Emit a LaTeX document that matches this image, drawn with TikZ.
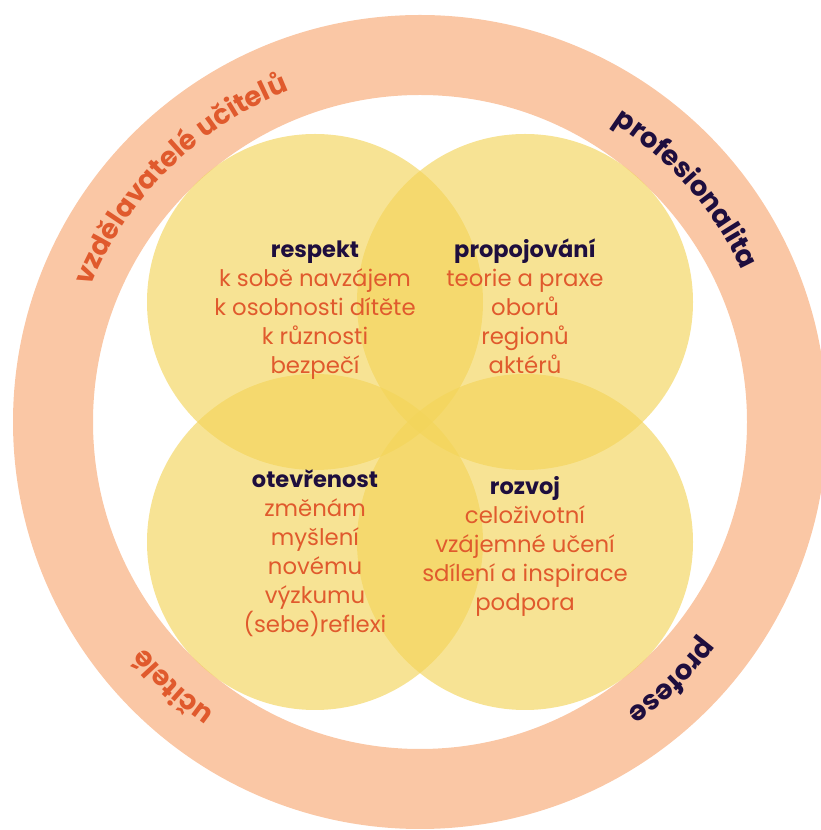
\documentclass[tikz,border=0pt]{standalone}
\usepackage{fontspec}
\setmainfont{Poppins}
\usetikzlibrary{decorations.text}
\definecolor{ringc}{RGB}{250,199,165}
\definecolor{circc}{RGB}{243,212,89}
\definecolor{orangec}{RGB}{224,90,45}
\definecolor{navyc}{RGB}{30,14,62}
\newcommand{\vtitleof}[1]{\rule{0pt}{20pt}\textcolor{navyc}{\fontsize{22.5}{29}\selectfont\bfseries #1}}
\begin{document}
\begin{tikzpicture}[x=1pt,y=1pt,
  venn/.style={circle, fill=circc, fill opacity=0.645, minimum size=336pt, inner sep=0pt},
  vtext/.style={align=center, text=orangec, font=\fontsize{22.8}{29}\selectfont, inner sep=0pt, anchor=north}]
\useasboundingbox (0,0) rectangle (821,830);
\clip (0,0) rectangle (821,830);
\coordinate (c) at (420,408);
\fill[ringc, even odd rule] (c) circle[radius=407] (c) circle[radius=327];
\node[venn] (tl) at (315,528) {};
\node[venn] (tr) at (525,528) {};
\node[venn] (bl) at (315,288) {};
\node[venn] (br) at (525,288) {};
\node[vtext] (t1) at (315,593) {\vtitleof{respekt}\\k sobě navzájem\\k osobnosti dítěte\\k různosti\\bezpečí};
\node[vtext] (t2) at (525,593) {\vtitleof{propojování}\\teorie a praxe\\oborů\\regionů\\aktérů};
\node[vtext] (t3) at (315,363) {\vtitleof{otevřenost}\\změnám\\myšlení\\novému\\výzkumu\\(sebe)reflexi};
\node[vtext] (t4) at (525,356) {\vtitleof{rozvoj}\\celoživotní\\vzájemné učení\\sdílení a inspirace\\podpora};
\path[decorate, decoration={text along path, text align=center,
  text={|\bfseries\fontsize{27.5}{27.5}\selectfont\color{orangec}|vzdělavatelé učitelů}}]
  (c) ++(174.6:356) arc[start angle=174.6, end angle=94.6, radius=356];
\path[decorate, decoration={text along path, text align=center,
  text={|\bfseries\fontsize{27.5}{27.5}\selectfont\color{navyc}|profesionalita}}]
  (c) ++(81.2:356) arc[start angle=81.2, end angle=1.2, radius=356];
\path[decorate, decoration={text along path, text align=center,
  text={|\bfseries\fontsize{27.5}{27.5}\selectfont\color{navyc}|profese}}]
  (c) ++(-15.8:356) arc[start angle=-15.8, end angle=-75.8, radius=356];
\path[decorate, decoration={text along path, text align=center,
  text={|\bfseries\fontsize{27.5}{27.5}\selectfont\color{orangec}|učitelé}}]
  (c) ++(257:356) arc[start angle=257, end angle=197, radius=356];
\end{tikzpicture}
\end{document}
